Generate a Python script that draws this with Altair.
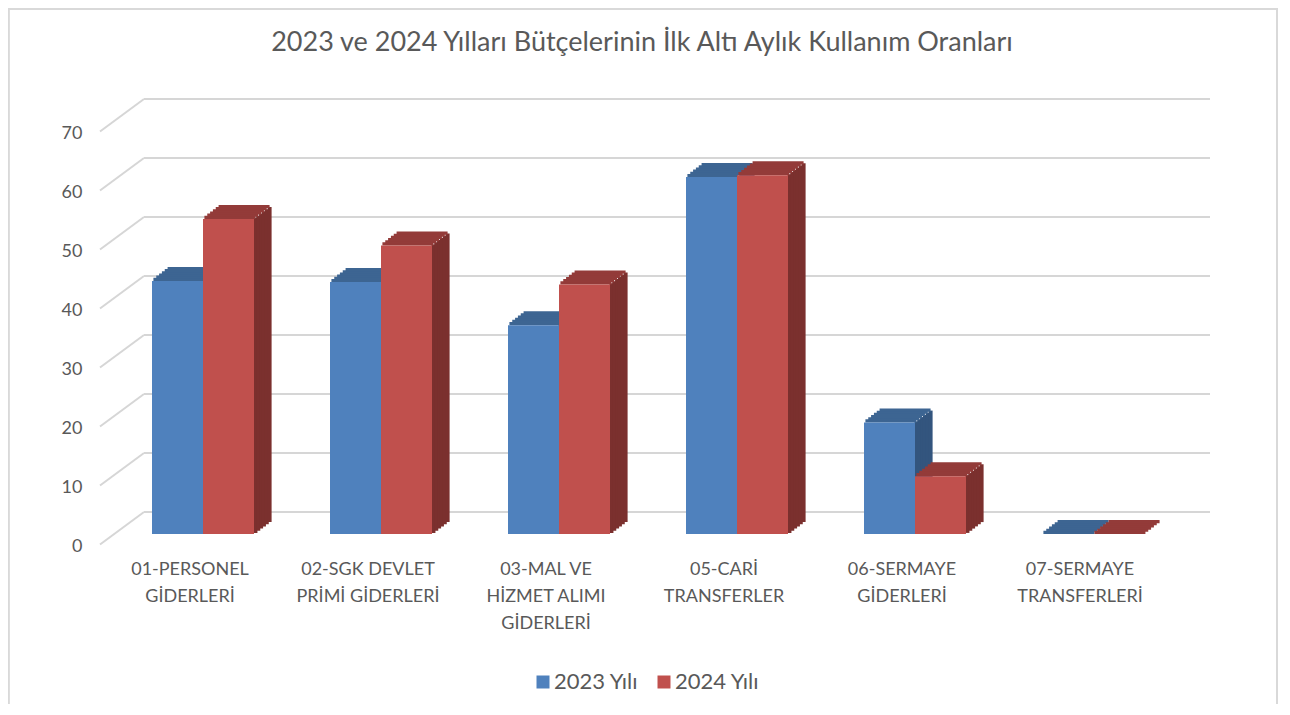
import altair as alt
import pandas as pd

categories = [
    "01-PERSONEL|GİDERLERİ",
    "02-SGK DEVLET|PRİMİ GİDERLERİ",
    "03-MAL VE|HİZMET ALIMI|GİDERLERİ",
    "05-CARİ|TRANSFERLER",
    "06-SERMAYE|GİDERLERİ",
    "07-SERMAYE|TRANSFERLERİ",
]
series = ["2023 Yılı", "2024 Yılı"]
values_2023 = [42.9, 42.7, 35.4, 60.5, 18.9, 0]
values_2024 = [53.4, 48.9, 42.3, 60.8, 9.8, 0]
y_ticks = [0, 10, 20, 30, 40, 50, 60, 70]

front_colors = ["#4F81BD", "#C0504D"]
top_colors = ["#3D6592", "#933B39"]
side_colors = ["#33557E", "#7B302E"]

rows = []
for c, a, b in zip(categories, values_2023, values_2024):
    rows.append({"cat": c, "series": series[0], "value": a})
    rows.append({"cat": c, "series": series[1], "value": b})
df = pd.DataFrame(rows)
ticks_df = pd.DataFrame({"tick": y_ticks})

FONT = "Lato"
GREY = "#595959"
W, H = 1068, 413

yscale = alt.Scale(domain=[0, 70], nice=False, zero=True)
xscale = alt.Scale(domain=categories, paddingInner=0.427, paddingOuter=0.2135)

x_axis = alt.Axis(labelExpr="split(datum.label, '|')", labelAngle=0,
                  labelOffset=-13, labelPadding=26, domain=False, ticks=False,
                  tickSize=0, labelFont=FONT, labelFontSize=18, labelColor=GREY,
                  labelLineHeight=27, labelBaseline="top", grid=False, title=None)
y_axis = alt.Axis(values=y_ticks, labelOffset=12, labelPadding=32, domain=False,
                  ticks=False, tickSize=0, grid=False, labelFont=FONT,
                  labelFontSize=18, labelColor=GREY, title=None)

# decorative chart frame
frame = alt.Chart(ticks_df).mark_rect(fill=None, stroke="#D9D9D9", strokeWidth=1.5).encode(
    x=alt.value(-105.5), x2=alt.value(1163), y=alt.value(-112), y2=alt.value(700)
)

back_grid = alt.Chart(ticks_df).mark_rule(color="#D6D6D6", strokeWidth=2, yOffset=-22).encode(
    y=alt.Y("tick:Q", scale=yscale, axis=y_axis),
    x=alt.value(30), x2=alt.value(1096),
)
side_grid = alt.Chart(ticks_df).mark_rule(color="#D6D6D6", strokeWidth=2, yOffset=10.5, y2Offset=-22).encode(
    y=alt.Y("tick:Q", scale=yscale, axis=y_axis),
    y2="tick:Q",
    x=alt.value(-14), x2=alt.value(30),
)

BW = 51          # front face width of one bar (px)
DX, DY = 17, 13  # 3-D depth offsets (px)
N = 6            # slices used to draw the slanted faces
layers = [frame, back_grid, side_grid]
for i, s in enumerate(series):
    sign = -1 if i == 0 else 1
    base = alt.Chart(df).transform_filter(alt.datum.series == s)
    xenc = alt.X("cat:N", scale=xscale, sort=categories, axis=x_axis)
    # side face (vertical slices)
    for k in range(N):
        sx = sign * BW / 2 + BW / 2 + DX * (k + 0.5) / N
        sy = -DY * (k + 0.5) / N
        layers.append(base.mark_bar(width=DX / N + 1.2, xOffset=sx, yOffset=sy, y2Offset=sy,
                                    color=side_colors[i]).encode(
            x=xenc,
            y=alt.Y("value:Q", scale=yscale, axis=y_axis),
            y2=alt.Y2(datum=0),
        ))
    # top face (horizontal slices)
    for k in range(N):
        tx = sign * BW / 2 + DX * (k + 0.5) / N
        layers.append(base.mark_bar(width=BW, xOffset=tx,
                                    yOffset=-DY * (k + 1) / N - 1.0, y2Offset=-DY * k / N,
                                    color=top_colors[i]).encode(
            x=xenc,
            y=alt.Y("value:Q", scale=yscale, axis=y_axis),
            y2="value:Q",
        ))
    front = base.mark_bar(width=BW, xOffset=sign * BW / 2).encode(
        x=xenc,
        y=alt.Y("value:Q", scale=yscale, axis=y_axis),
        color=alt.Color("series:N", scale=alt.Scale(domain=series, range=front_colors),
                        legend=alt.Legend(orient="none", legendX=418, legendY=550,
                                          direction="horizontal", title=None,
                                          symbolType="square", symbolSize=169,
                                          symbolStrokeWidth=0, labelFont=FONT,
                                          labelFontSize=22, labelColor=GREY,
                                          columnPadding=14, labelOffset=0)),
    )
    layers.append(front)

chart = alt.layer(*layers).properties(
    width=W, height=H,
    autosize=alt.AutoSizeParams(type="none"),
    padding={"left": 106, "top": 113, "right": 96, "bottom": 170},
    title=alt.TitleParams(
        "2023 ve 2024 Yılları Bütçelerinin İlk Altı Aylık Kullanım Oranları",
        font=FONT, fontSize=27, fontWeight="normal", color=GREY,
        anchor="middle", offset=0, dy=49, dx=-6,
    ),
).configure_view(stroke=None)

chart.save("out.html", embed_options={"renderer": "svg", "actions": False})
